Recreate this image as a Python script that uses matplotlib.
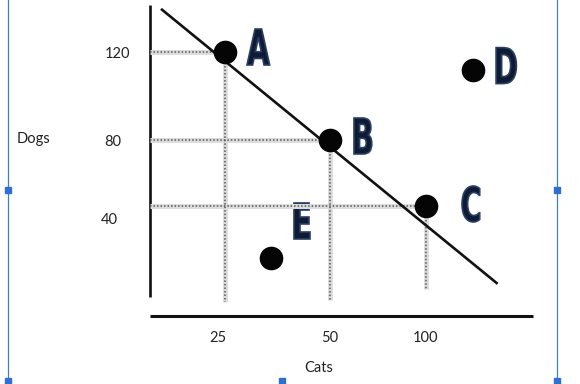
import numpy as np
import matplotlib
matplotlib.use('Agg')
import matplotlib.pyplot as plt
from matplotlib.textpath import TextPath
from matplotlib.patches import PathPatch
from matplotlib.font_manager import FontProperties
from matplotlib.transforms import Affine2D, ScaledTranslation

# --- data (chart units) ---
POINT_LABELS = ['A', 'B', 'C', 'D', 'E']
POINT_CATS = [25, 50, 100, 122, 36]
POINT_DOGS = [120, 80, 40, 112, 21]

CAT_TICKS = [25, 50, 100]
DOG_TICKS = [40, 80, 120]

FRONTIER_CATS = [4, 133]
FRONTIER_DOGS = [147, 12]

# guide lines drop from A, B, C; bottom end of each vertical guide (dogs)
GUIDE_BOTTOM = [5, 6, 10]

# --- hand-drawn axis layout: where the tick values sit on the drawing (pixels) ---
CAT_ANCHOR = [0, 25, 50, 100, 150]
CAT_PX = [150, 225, 330, 426, 533]
DOG_ANCHOR = [0, 40, 80, 120, 150]
DOG_PX = [316, 206, 140, 52, 5]

W, H = 580, 384


def cat_fwd(c):
    return np.interp(c, CAT_ANCHOR, CAT_PX)


def cat_inv(p):
    return np.interp(p, CAT_PX, CAT_ANCHOR)


def dog_fwd(d):
    return -np.interp(d, DOG_ANCHOR, DOG_PX)


def dog_inv(p):
    return np.interp(-np.asarray(p), DOG_PX[::-1], DOG_ANCHOR[::-1])


fig = plt.figure(figsize=(W / 100, H / 100), dpi=100)
fig.patch.set_facecolor('white')

# frame axes in pixel units for the drawn axis lines, titles, selection box
frame = fig.add_axes([0, 0, 1, 1])
frame.set_xlim(0, W)
frame.set_ylim(H, 0)
frame.axis('off')

# data axes covering the drawn plot region
left, right, bottom, top = 150, 533, 316, 5
ax = fig.add_axes([left / W, (H - bottom) / H, (right - left) / W, (bottom - top) / H])
ax.set_xscale('function', functions=(cat_fwd, cat_inv))
ax.set_yscale('function', functions=(dog_fwd, dog_inv))
ax.set_xlim(0, 150)
ax.set_ylim(0, 150)
ax.patch.set_alpha(0)
for s in ax.spines.values():
    s.set_visible(False)

label_font = 'Lato'
ax.set_xticks(CAT_TICKS)
ax.set_xticklabels([str(v) for v in CAT_TICKS], fontsize=10.5, family=label_font, color='#222')
ax.set_yticks(DOG_TICKS)
ax.set_yticklabels([str(v) for v in DOG_TICKS], fontsize=10.5, family=label_font, color='#222')
ax.tick_params(axis='x', length=0, pad=9)
ax.tick_params(axis='y', length=0, pad=20)
ax.minorticks_off()
for t in ax.get_yticklabels():
    t.set_horizontalalignment('center')
# the typed labels sit a little off the guide lines
Y_LABEL_SHIFT = {'40': (-0.13, -0.13), '80': (-0.09, 0.0), '120': (-0.05, 0.0)}
for t in ax.get_yticklabels():
    dx, dy = Y_LABEL_SHIFT[t.get_text()]
    t.set_transform(t.get_transform() + ScaledTranslation(dx, dy, fig.dpi_scale_trans))
for t in ax.get_xticklabels():
    dx = -0.07 if t.get_text() == '25' else 0.0
    t.set_transform(t.get_transform() + ScaledTranslation(dx, -0.02, fig.dpi_scale_trans))

# drawn axis lines
frame.plot([150, 150], [5, 297], color='#111', lw=1.9, solid_capstyle='butt')
frame.plot([150, 533], [316, 316], color='#111', lw=2.2, solid_capstyle='butt')
frame.text(33, 139, 'Dogs', fontsize=10.5, family=label_font, color='#222', ha='center', va='center')
frame.text(319, 368, 'Cats', fontsize=10.5, family=label_font, color='#222', ha='center', va='center')

# hatched guide lines
for c, d, b in zip(POINT_CATS[:3], POINT_DOGS[:3], GUIDE_BOTTOM):
    for xs, ys in (([0, c], [d, d]), ([c, c], [d, b])):
        ax.plot(xs, ys, color='#dcdcdc', lw=3.6, solid_capstyle='butt', zorder=1)
        ax.plot(xs, ys, color='#555', lw=1.1, linestyle=(0, (1, 1.3)), zorder=1.5)

# frontier
ax.plot(FRONTIER_CATS, FRONTIER_DOGS, color='#111', lw=1.9, zorder=2)

# points
ax.plot(POINT_CATS, POINT_DOGS, 'o', color='#050505', markersize=16, zorder=3, clip_on=False)

# condensed bold letters next to the points (left edge / vertical centre offset in px)
LETTER_OFFSET = {'A': (22, -5), 'B': (24, -4), 'C': (36, -2), 'D': (23, -4), 'E': (23, -37)}
fp = FontProperties(family='DejaVu Sans', weight='bold')
fig.canvas.draw()
for lab, c, d in zip(POINT_LABELS, POINT_CATS, POINT_DOGS):
    px, py = ax.transData.transform((c, d))
    py = H - py
    dx, dy = LETTER_OFFSET[lab]
    tp = TextPath((0, 0), lab, size=1, prop=fp)
    bb = tp.get_extents()
    sy = 36 / bb.height
    sx = sy * 0.6
    tr = (Affine2D().translate(-bb.x0, -(bb.y0 + bb.y1) / 2).scale(sx, -sy)
          .translate(px + dx, py + dy)) + frame.transData
    frame.add_patch(PathPatch(tp, transform=tr, facecolor='#0f1b33',
                              edgecolor='#2a3f66', lw=1.2, zorder=5))

# word-processor selection frame
sel = '#3f7fc6'
for x in (8, 557):
    frame.plot([x, x], [0, H], color=sel, lw=0.9)
for x, y in [(8, 190), (557, 190), (8, 381), (282, 381), (557, 381)]:
    frame.plot(x, y, 's', color='#2f6fd4', markersize=4.5, clip_on=False)

fig.savefig('out.png', dpi=100, facecolor='white')
